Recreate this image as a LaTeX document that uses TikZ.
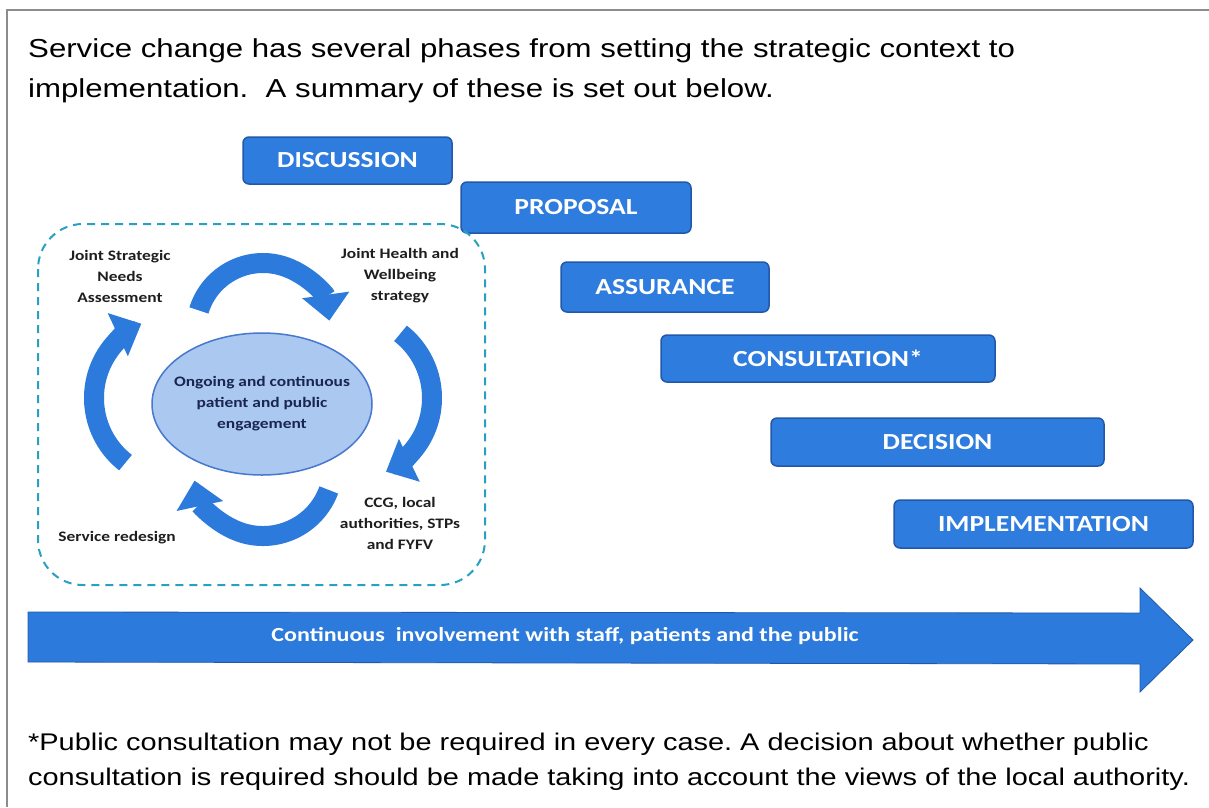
\documentclass[tikz,border=0pt]{standalone}
\usepackage{fontspec}
\setmainfont[FakeStretch=1.2]{Liberation Sans}
\newfontfamily\calfont[FakeStretch=1.2]{Carlito}
\usetikzlibrary{arrows.meta,shapes.geometric}
\definecolor{boxblue}{RGB}{46,124,222}
\definecolor{boxedge}{RGB}{34,88,170}
\definecolor{arrblue}{RGB}{44,122,220}
\definecolor{dashteal}{RGB}{40,160,192}
\definecolor{ellfill}{RGB}{170,200,240}
\definecolor{elledge}{RGB}{70,120,205}
\definecolor{framegray}{RGB}{140,140,140}
\definecolor{navytext}{RGB}{25,38,80}
\definecolor{labtext}{RGB}{30,30,30}
\tikzset{
  phase/.style={draw=boxedge, fill=boxblue, line width=1.5pt, rounded corners=6pt,
    text=white, font=\calfont\bfseries\fontsize{23}{26}\selectfont, inner sep=0pt},
  cyc/.style={draw=arrblue, line width=20pt, -{Triangle[length=26pt,width=46pt]}},
  cyclabel/.style={align=center, text=labtext, font=\calfont\bfseries\fontsize{14.5}{21}\selectfont, inner sep=0pt},
  bodytext/.style={anchor=base west, inner sep=0pt, text=black, font=\fontsize{26}{40}\selectfont},
  foottext/.style={anchor=base west, inner sep=0pt, text=black, font=\fontsize{24.1}{35}\selectfont}
}
\frenchspacing
\begin{document}
\begin{tikzpicture}[x=1pt,y=-1pt]
\useasboundingbox (0,0) rectangle (1209,807);
\fill[white] (0,0) rectangle (1209,807);
\draw[framegray, line width=2pt] (1209,10) -- (7,10) -- (7,807);

% header
\node[bodytext] (h1) at (28,57) {Service change has several phases from setting the strategic context to};
\node[bodytext] (h2) at (28,97) {implementation.\ \ A summary of these is set out below.};

% phases
\node[phase, minimum width=209pt, minimum height=47pt] (disc) at (347.5,160.5) {DISCUSSION};
\node[phase, minimum width=230pt, minimum height=51pt] (prop) at (576,207.5) {PROPOSAL};
\node[phase, minimum width=208pt, minimum height=50pt] (assu) at (665,287) {ASSURANCE};
\node[phase, minimum width=334pt, minimum height=47pt] (cons) at (828,358.5) {CONSULTATION*};
\node[phase, minimum width=333pt, minimum height=48pt] (deci) at (937.5,442) {DECISION};
\node[phase, minimum width=299pt, minimum height=48pt] (impl) at (1043.5,524) {IMPLEMENTATION};

% dashed cycle box
\draw[dashteal, line width=2pt, dash pattern=on 8pt off 6pt, rounded corners=45pt] (38,224) rectangle (485,585);

% centre ellipse
\node[ellipse, draw=elledge, fill=ellfill, line width=1.5pt, minimum width=220pt, minimum height=142pt, inner sep=0pt] (eng) at (262,404) {};
\node[align=center, text=navytext, inner sep=0pt, font=\calfont\bfseries\fontsize{14.5}{21}\selectfont] (engtxt) at (eng.center)
  {Ongoing and continuous\\patient and public\\engagement};

% circular arrows
\draw[cyc] (263,330) ++(-163:67) arc[start angle=-163, end angle=-8, radius=67];
\draw[cyc] (350,398) ++(-52:82) arc[start angle=-52, end angle=64, radius=82];
\draw[cyc] (263,466) ++(20:70) arc[start angle=20, end angle=168, radius=70];
\draw[cyc] (176,398) ++(128:82) arc[start angle=128, end angle=245, radius=82];

% cycle labels
\node[cyclabel] (jsna) at (120,276) {Joint Strategic\\Needs\\Assessment};
\node[cyclabel] (jhw) at (400,276) {Joint Health and\\Wellbeing\\strategy};
\node[cyclabel] (ccg) at (400,523) {CCG, local\\authorities, STPs\\and FYFV};
\node[cyclabel] (redes) at (117,538) {Service redesign};

% big arrow
\draw[boxedge, fill=arrblue, line width=0.8pt] (28,612) -- (1140,613) -- (1140,588) -- (1193,640) -- (1140,692) -- (1140,664) -- (28,662) -- cycle;
\node[text=white, font=\calfont\bfseries\fontsize{20}{24}\selectfont, inner sep=0pt] (inv) at (565,636)
  {Continuous\ \ involvement with staff, patients and the public};

% footer
\node[foottext] (f1) at (28,750) {*Public consultation may not be required in every case. A decision about whether public};
\node[foottext] (f2) at (28,785) {consultation is required should be made taking into account the views of the local authority.};
\end{tikzpicture}
\end{document}
